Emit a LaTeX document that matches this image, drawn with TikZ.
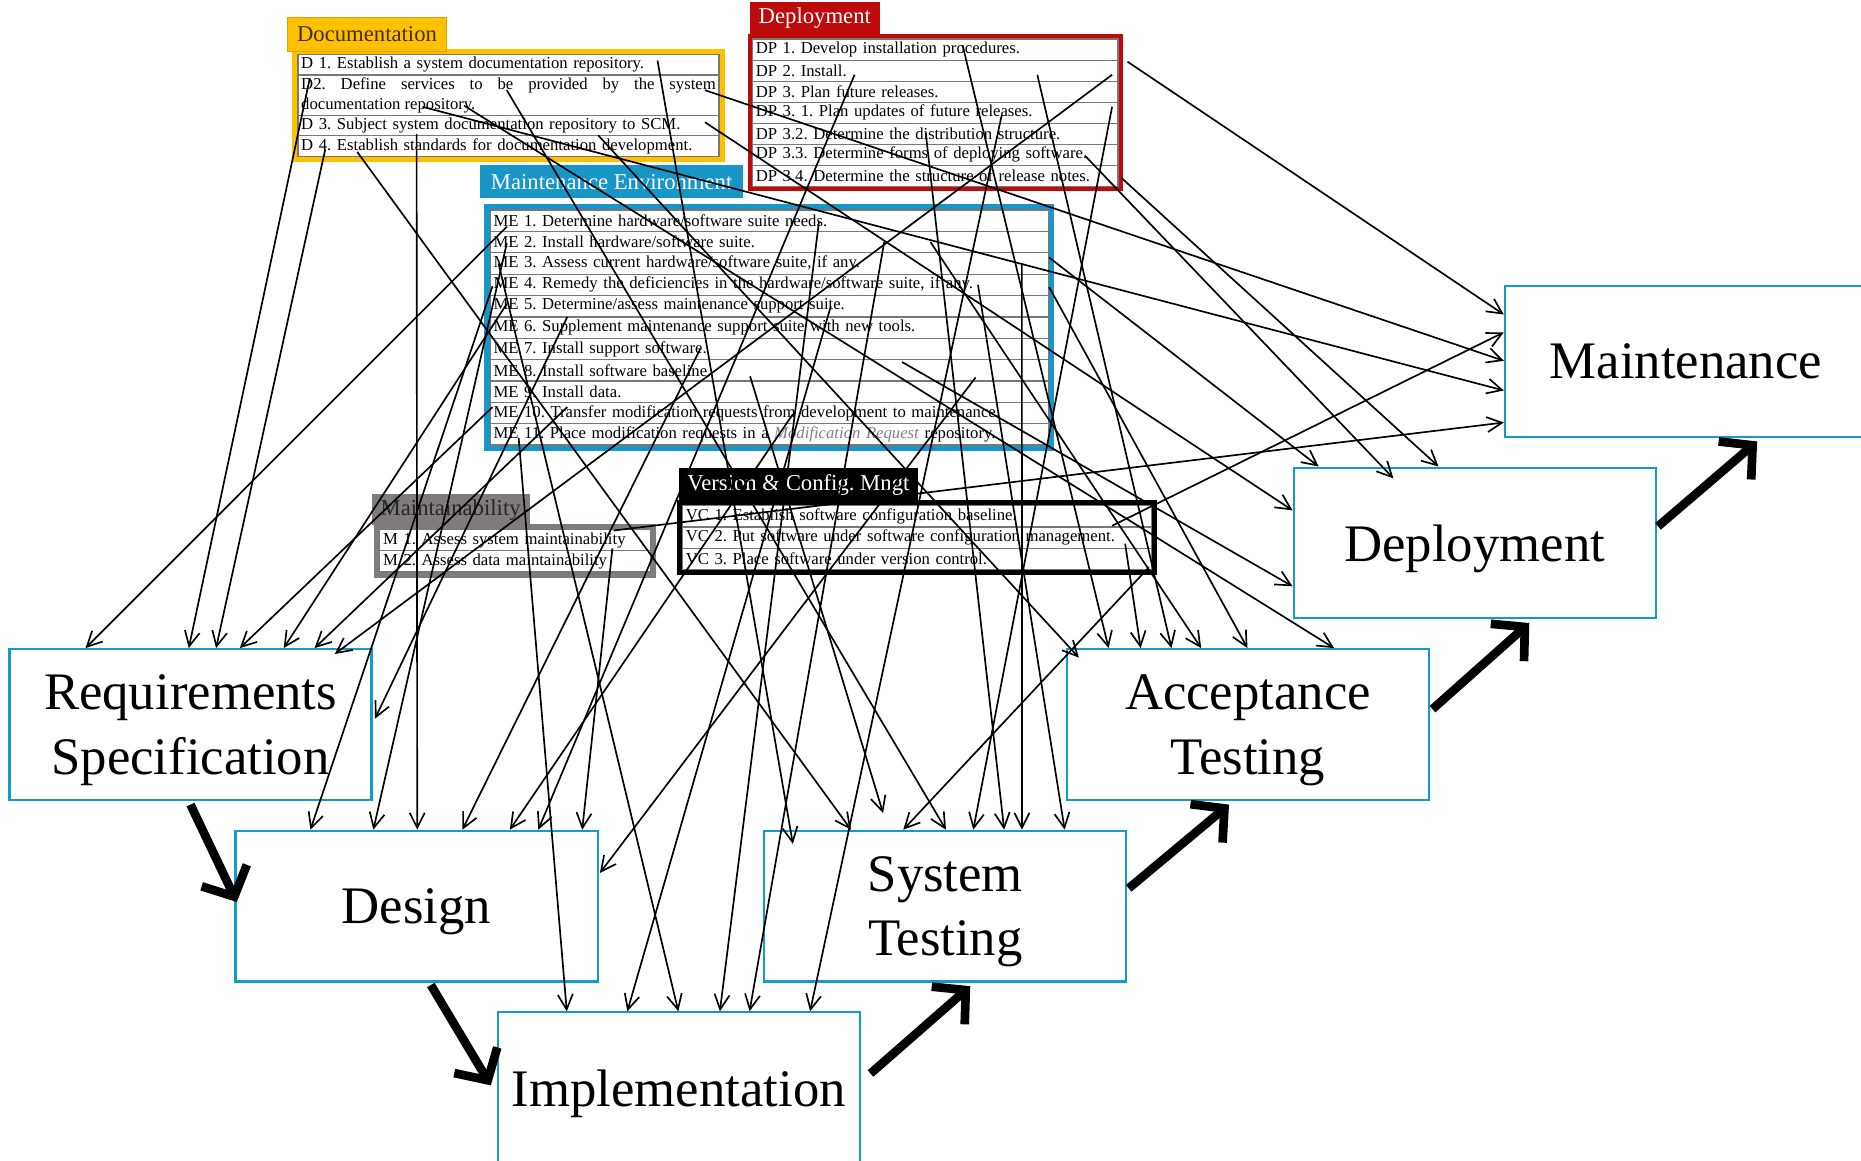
\documentclass[tikz,border=0pt]{standalone}
\usepackage{fontspec}
\setmainfont{Liberation Serif}
\usepackage{tikz}
\usetikzlibrary{positioning,arrows.meta,backgrounds,calc,fit}
\frenchspacing

\definecolor{phaseBlue}{RGB}{20,155,205}
\definecolor{docGold}{RGB}{255,192,0}
\definecolor{docText}{RGB}{70,45,0}
\definecolor{depRed}{RGB}{190,10,10}
\definecolor{meBlue}{RGB}{25,150,200}
\definecolor{mGray}{RGB}{128,124,124}
\definecolor{rowLine}{RGB}{120,120,120}

\begin{document}
\begin{tikzpicture}[
    x=0.025cm, y=-0.025cm,
    phaseNode/.style={rectangle, draw=phaseBlue, line width=1.3pt, fill=white, minimum width=7.625cm, minimum height=3.175cm, align=center, text depth=0pt, font=\fontsize{31.6}{38.4}\selectfont},
    actRow/.style={rectangle, draw=rowLine, line width=0.8pt, fill=white, inner xsep=2pt, inner ysep=0pt, outer sep=0pt, align=left, font=\fontsize{10}{12}\selectfont},
    docRow/.style={actRow, text width=8.73cm, minimum height=0.43cm},
    depRow/.style={actRow, text width=7.56cm, minimum height=0.443cm},
    meRow/.style={actRow, text width=11.61cm, minimum height=0.45cm},
    mRow/.style={actRow, text width=5.56cm, minimum height=0.45cm},
    vcRow/.style={actRow, text width=9.73cm, minimum height=0.45cm},
    frameBox/.style={rectangle, inner sep=0.12cm},
    tabNode/.style={rectangle, inner xsep=2pt, inner ysep=0pt, anchor=south west, align=left, font=\fontsize{13.6}{16}\selectfont},
    actArrow/.style={-{Straight Barb[length=9pt,width=9pt]}, line width=1pt},
    phaseArrow/.style={-{Straight Barb[length=14pt,width=30pt]}, line width=5.2pt}
]
\begin{scope}[on background layer]
    \fill[white] (0,0) rectangle (1568,978);
\end{scope}
\useasboundingbox (0,0) rectangle (1568,978);

% ================= PHASES =================
\node[phaseNode] (req) at (160.5,610.5) {Requirements\\Specification};
\node[phaseNode] (design) at (351,763.5) {Design};
\node[phaseNode] (impl) at (572,916.5) {Implementation};
\node[phaseNode] (systest) at (796.5,763.5) {System\\Testing};
\node[phaseNode] (accept) at (1051.5,610.5) {Acceptance\\Testing};
\node[phaseNode] (deploy) at (1242.5,457.5) {Deployment};
\node[phaseNode] (maint) at (1420.5,304.5) {Maintenance};

% ================= DOCUMENTATION =================
\node[docRow, anchor=north west] (d1) at (251,46) {D 1. Establish a system documentation repository.};
\node[docRow, align=justify, minimum height=0.85cm, below=0pt of d1] (d2) {D2. Define services to be provided by the system\linebreak documentation repository.};
\node[docRow, below=0pt of d2] (d3) {D 3. Subject system documentation repository to SCM.};
\node[docRow, below=0pt of d3] (d4) {D 4. Establish standards for documentation development.};
\begin{scope}[on background layer]
    \node[frameBox, fill=docGold, fit=(d1) (d4)] (docBox) {};
\end{scope}
\node[tabNode, fill=docGold, draw=docGold!85!black, text=docText, minimum width=3.35cm, minimum height=0.725cm] (docTab) at ([xshift=-0.1cm, yshift=-0.075cm]docBox.north west) {Documentation};

% ================= DEPLOYMENT =================
\node[depRow, anchor=north west] (dp1) at (634,33) {DP 1. Develop installation procedures.};
\node[depRow, below=0pt of dp1] (dp2) {DP 2. Install.};
\node[depRow, below=0pt of dp2] (dp3) {DP 3. Plan future releases.};
\node[depRow, below=0pt of dp3] (dp31) {DP 3. 1. Plan updates of future releases.};
\node[depRow, below=0pt of dp31] (dp32) {DP 3.2. Determine the distribution structure.};
\node[depRow, below=0pt of dp32] (dp33) {DP 3.3. Determine forms of deploying software.};
\node[depRow, below=0pt of dp33] (dp34) {DP 3.4. Determine the structure of release notes.};
\begin{scope}[on background layer]
    \node[frameBox, inner sep=0.1cm, fill=depRed, fit=(dp1) (dp34)] (depBox) {};
\end{scope}
\node[tabNode, fill=depRed, text=white, minimum width=2.725cm, minimum height=0.675cm] (depTab) at ([xshift=0.05cm]depBox.north west) {Deployment};

% ================= MAINTENANCE ENVIRONMENT =================
\node[meRow, anchor=north west] (me1) at (413,177) {ME 1. Determine hardware/software suite needs.};
\node[meRow, below=0pt of me1] (me2) {ME 2. Install hardware/software suite.};
\node[meRow, below=0pt of me2] (me3) {ME 3. Assess current hardware/software suite, if any.};
\node[meRow, below=0pt of me3] (me4) {ME 4. Remedy the deficiencies in the hardware/software suite, if any.};
\node[meRow, below=0pt of me4] (me5) {ME 5. Determine/assess maintenance support suite.};
\node[meRow, below=0pt of me5] (me6) {ME 6. Supplement maintenance support suite with new tools.};
\node[meRow, below=0pt of me6] (me7) {ME 7. Install support software.};
\node[meRow, below=0pt of me7] (me8) {ME 8. Install software baseline.};
\node[meRow, below=0pt of me8] (me9) {ME 9. Install data.};
\node[meRow, below=0pt of me9] (me10) {ME 10. Transfer modification requests from development to maintenance.};
\node[meRow, below=0pt of me10] (me11) {ME 11. Place modification requests in a \textcolor{gray}{\textit{Modification Request}} repository.};
\begin{scope}[on background layer]
    \node[frameBox, inner sep=0.13cm, fill=meBlue, fit=(me1) (me11)] (meBox) {};
\end{scope}
\node[tabNode, fill=meBlue, text=white, minimum width=5.525cm, minimum height=0.7cm] (meTab) at ([xshift=-0.075cm, yshift=0.1cm]meBox.north west) {Maintenance Environment};

% ================= MAINTAINABILITY =================
\node[mRow, anchor=north west] (m1) at (320,446) {M 1. Assess system maintainability};
\node[mRow, below=0pt of m1] (m2) {M 2. Assess data maintainability};
\begin{scope}[on background layer]
    \node[frameBox, fill=mGray, fit=(m1) (m2)] (mBox) {};
\end{scope}
\node[tabNode, fill=mGray, text=black!85, minimum width=3.325cm, minimum height=0.65cm] (mTab) at ([xshift=-0.05cm, yshift=-0.05cm]mBox.north west) {Maintainability};

% ================= VERSION & CONFIG =================
\node[vcRow, anchor=north west] (vc1) at (575,426) {VC 1. Establish software configuration baseline.};
\node[vcRow, below=0pt of vc1] (vc2) {VC 2. Put software under software configuration management.};
\node[vcRow, below=0pt of vc2] (vc3) {VC 3. Place software under version control.};
\begin{scope}[on background layer]
    \node[frameBox, fill=black, fit=(vc1) (vc3)] (vcBox) {};
\end{scope}
\node[tabNode, fill=black, text=white, minimum width=5.025cm, minimum height=0.7cm] (vcTab) at ([xshift=0.05cm, yshift=-0.05cm]vcBox.north west) {Version \& Config. Mngt};

% ================= ACTIVITY START POINTS =================
\coordinate (d1a) at (554,51);
\coordinate (d2a) at (261,66);
\coordinate (d2b) at (356,90);
\coordinate (d2c) at (427,76);
\coordinate (d2d) at (391,89);
\coordinate (d2e) at (594,76);
\coordinate (d3a) at (351,113);
\coordinate (d3b) at (504,114);
\coordinate (d3c) at (594,103);
\coordinate (d4a) at (274,126);
\coordinate (d4b) at (301,128);
\coordinate (dp1a) at (811,38);
\coordinate (dp1b) at (950,52);
\coordinate (dp2a) at (720,63);
\coordinate (dp2b) at (874,63);
\coordinate (dp2c) at (937,63);
\coordinate (dp31a) at (844,97);
\coordinate (dp31b) at (937,90);
\coordinate (dp32a) at (780,112);
\coordinate (dp33a) at (914,131);
\coordinate (dp34a) at (945,150);
\coordinate (me1a) at (427,191);
\coordinate (me1b) at (690,187);
\coordinate (me2a) at (427,205);
\coordinate (me2b) at (745,204);
\coordinate (me2c) at (784,204);
\coordinate (me3a) at (420,222);
\coordinate (me3b) at (861,222);
\coordinate (me3c) at (884,217);
\coordinate (me4a) at (415,241);
\coordinate (me4b) at (824,240);
\coordinate (me4c) at (884,242);
\coordinate (me5a) at (427,256);
\coordinate (me5b) at (700,258);
\coordinate (me6a) at (478,267);
\coordinate (me7a) at (590,294);
\coordinate (me7b) at (760,305);
\coordinate (me8a) at (632,317);
\coordinate (me8b) at (822,318);
\coordinate (me10a) at (415,343);
\coordinate (me10b) at (478,343);
\coordinate (me10c) at (668,349);
\coordinate (me11a) at (437,369);
\coordinate (m1a) at (517,447);
\coordinate (m2a) at (516,462);
\coordinate (vc2a) at (948,458);
\coordinate (vc2b) at (937,443);
\coordinate (vc3a) at (968,478);

% ================= ARROWS INTO REQUIREMENTS =================
\draw[actArrow] (me1a) -- ($(req.north west)+(65,0)$);
\draw[actArrow] (d2a) -- ($(req.north west)+(152,0)$);
\draw[actArrow] (d4a) -- ($(req.north west)+(175,0)$);
\draw[actArrow] (me10a) -- ($(req.north west)+(195,0)$);
\draw[actArrow] (me5a) -- ($(req.north west)+(232,0)$);
\draw[actArrow] (me10b) -- ($(req.north west)+(258,0)$);
\draw[actArrow] (dp2c) -- ($(req.north west)+(275,5)$);
\draw[actArrow] (me6a) -- ($(req.east)+(2,-5)$);

% ================= ARROWS INTO DESIGN =================
\draw[actArrow] (me4a) -- ($(design.north west)+(64,0)$);
\draw[actArrow] (me2a) -- ($(design.north west)+(117,0)$);
\draw[actArrow] (d3a) -- ($(design.north west)+(154,0)$);
\draw[actArrow] (me7a) -- ($(design.north west)+(192,0)$);
\draw[actArrow] (me10c) -- ($(design.north west)+(232,0)$);
\draw[actArrow] (dp2a) -- ($(design.north west)+(256,0)$);
\draw[actArrow] (m2a) -- ($(design.north west)+(293,0)$);
\draw[actArrow] (me8b) -- ($(design.east)+(1,-28)$);

% ================= ARROWS INTO IMPLEMENTATION =================
\draw[actArrow] (me11a) -- ($(impl.north west)+(59,0)$);
\draw[actArrow] (me5b) -- ($(impl.north west)+(110,0)$);
\draw[actArrow] (me3a) -- ($(impl.north west)+(153,0)$);
\draw[actArrow] (me1b) -- ($(impl.north west)+(188,0)$);
\draw[actArrow] (me2b) -- ($(impl.north west)+(213,0)$);
\draw[actArrow] (dp31a) -- ($(impl.north west)+(264,0)$);

% ================= ARROWS INTO SYSTEM TESTING =================
\draw[actArrow] (d1a) -- ($(systest.north west)+(25,12)$);
\draw[actArrow] (d4b) -- ($(systest.north west)+(74,0)$);
\draw[actArrow] (me8a) -- ($(systest.north west)+(101,-14)$);
\draw[actArrow] (vc3a) -- ($(systest.north west)+(118,0)$);
\draw[actArrow] (d2c) -- ($(systest.north west)+(154,0)$);
\draw[actArrow] (dp31b) -- ($(systest.north west)+(177,0)$);
\draw[actArrow] (dp32a) -- ($(systest.north west)+(203,0)$);
\draw[actArrow] (me3b) -- ($(systest.north west)+(218,0)$);
\draw[actArrow] (me4b) -- ($(systest.north west)+(254,0)$);

% ================= ARROWS INTO ACCEPTANCE TESTING =================
\draw[actArrow] (d3b) -- ($(accept.north west)+(11,8)$);
\draw[actArrow] (dp1a) -- ($(accept.north west)+(36,0)$);
\draw[actArrow] (vc2a) -- ($(accept.north west)+(63,0)$);
\draw[actArrow] (dp2b) -- ($(accept.north west)+(89,0)$);
\draw[actArrow] (me2c) -- ($(accept.north west)+(114,0)$);
\draw[actArrow] (me4c) -- ($(accept.north west)+(153,0)$);
\draw[actArrow] (d2d) -- ($(accept.north west)+(226,0)$);

% ================= ARROWS INTO DEPLOYMENT =================
\draw[actArrow] (me3c) -- ($(deploy.north west)+(22,0)$);
\draw[actArrow] (dp33a) -- ($(deploy.north west)+(85,10)$);
\draw[actArrow] (dp34a) -- ($(deploy.north west)+(123,0)$);
\draw[actArrow] (d3c) -- ($(deploy.west)+(0,-27.5)$);
\draw[actArrow] (me7b) -- ($(deploy.west)+(0,36.5)$);

% ================= ARROWS INTO MAINTENANCE =================
\draw[actArrow] (dp1b) -- ($(maint.west)+(0,-39.5)$);
\draw[actArrow] (vc2b) -- ($(maint.west)+(0,-24.5)$);
\draw[actArrow] (d2e) -- ($(maint.west)+(0,-0.5)$);
\draw[actArrow] (d2b) -- ($(maint.west)+(0,24.5)$);
\draw[actArrow] (m1a) -- ($(maint.west)+(0,51.5)$);

% ================= PHASE FLOW =================
\draw[phaseArrow] ($(req.south)+(0,3)$) -- ($(design.west)+(2,-3.5)$);
\draw[phaseArrow] ($(design.south)+(12,2)$) -- ($(impl.west)+(-5,-2)$);
\draw[phaseArrow] ($(impl.east)+(8,-12)$) -- ($(systest.south)+(21,3)$);
\draw[phaseArrow] ($(systest.east)+(1,-15)$) -- ($(accept.south)+(-16,3)$);
\draw[phaseArrow] ($(accept.east)+(2,-13)$) -- ($(deploy.south)+(46,3)$);
\draw[phaseArrow] ($(deploy.east)+(1,-14)$) -- ($(maint.south)+(60,3)$);

\end{tikzpicture}
\end{document}
